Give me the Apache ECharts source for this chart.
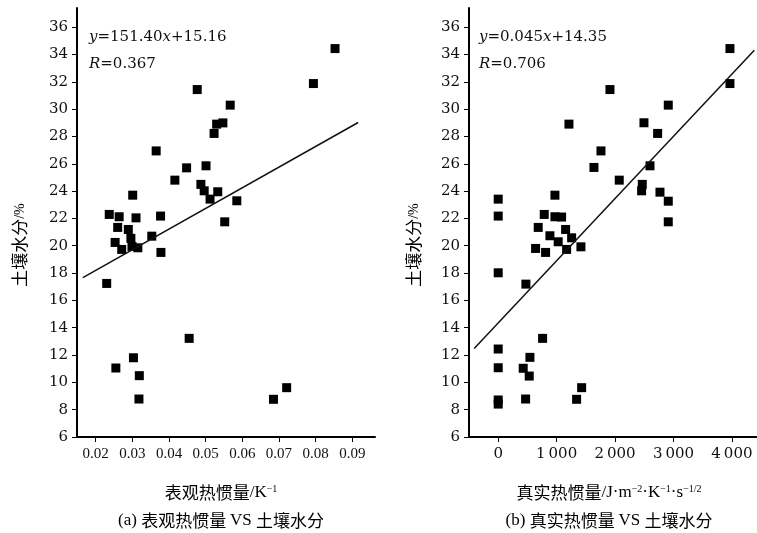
<!DOCTYPE html>
<html>
<head>
<meta charset="utf-8">
<script src="https://cdn.jsdelivr.net/npm/echarts@6/dist/echarts.min.js"></script>
<style>
  html, body { margin: 0; padding: 0; background: #fff; }
  #chart { width: 757px; height: 533px; }
</style>
</head>
<body>
<div id="chart"></div>
<script>
// (a) 表观热惯量 vs 土壤水分
var apparentTI = [0.0853, 0.0794, 0.0477, 0.0567, 0.0530, 0.0547, 0.0523, 0.0365, 0.0448, 0.0501,
  0.0416, 0.0487, 0.0496, 0.0533, 0.0512, 0.0585, 0.0301, 0.0237, 0.0264, 0.0310,
  0.0377, 0.0552, 0.0260, 0.0289, 0.0296, 0.0353, 0.0253, 0.0271, 0.0299, 0.0315,
  0.0378, 0.0230, 0.0455, 0.0303, 0.0255, 0.0319, 0.0318, 0.0685, 0.0721];
var moistureA = [34.43, 31.87, 31.43, 30.29, 28.90, 28.99, 28.22, 26.94, 25.70, 25.85,
  24.80, 24.49, 24.02, 23.95, 23.41, 23.29, 23.70, 22.29, 22.12, 22.04,
  22.17, 21.75, 21.34, 21.19, 20.54, 20.70, 20.24, 19.73, 19.95, 19.85,
  19.51, 17.24, 13.22, 11.80, 11.05, 10.49, 8.78, 8.76, 9.61];
// 回归线两端 (y=151.40x+15.16)
var fitA = [[0.0165, 17.66], [0.0916, 29.02]];

// (b) 真实热惯量 vs 土壤水分
var trueTI = [3967, 3967, 1913, 2911, 1211, 2495, 2729, 1759, 1639, 2598,
  2072, 2466, 2455, 2769, 2911, 0, 971, 788, 971, 1085,
  0, 2911, 685, 1154, 885, 1027, 1257, 640, 811, 1171,
  1416, 0, 474, 760, 0, 543, 0, 428, 531, 1428,
  0, 0, 469, 1342];
var moistureB = [34.43, 31.87, 31.43, 30.29, 28.90, 29.00, 28.22, 26.94, 25.73, 25.85,
  24.80, 24.49, 24.02, 23.92, 23.26, 23.41, 23.70, 22.29, 22.12, 22.10,
  22.17, 21.75, 21.34, 21.19, 20.73, 20.29, 20.58, 19.80, 19.51, 19.73,
  19.92, 18.02, 17.19, 13.22, 12.44, 11.83, 11.07, 11.03, 10.46, 9.61,
  8.71, 8.41, 8.78, 8.76];
var fitB = [[-411, 12.48], [4384, 34.30]];

var yTicks = [6, 8, 10, 12, 14, 16, 18, 20, 22, 24, 26, 28, 30, 32, 34, 36];
var xTicksA = [0.02, 0.03, 0.04, 0.05, 0.06, 0.07, 0.08, 0.09];
var xTicksB = [0, 1000, 2000, 3000, 4000];

function zip(xs, ys) {
  return xs.map(function (x, i) { return [x, ys[i]]; });
}

var serif = "DejaVu Serif";
var cjk = "Noto Sans CJK SC";

var axisCommon = {
  axisLine: { show: true, onZero: false, lineStyle: { color: "#000", width: 2 } },
  axisTick: { show: true, length: 5, lineStyle: { color: "#000", width: 1 } },
  splitLine: { show: false }
};

function makeX(idx, min, max, ticks, fmt, font) {
  return Object.assign({}, axisCommon, {
    type: "value",
    gridIndex: idx,
    min: min,
    max: max,
    axisTick: Object.assign({}, axisCommon.axisTick, { customValues: ticks }),
    axisLabel: {
      customValues: ticks,
      margin: 10,
      color: "#111",
      fontFamily: font,
      fontSize: 15,
      formatter: fmt
    }
  });
}

function makeY(idx) {
  return Object.assign({}, axisCommon, {
    type: "value",
    gridIndex: idx,
    min: 6,
    max: 37.4,
    axisTick: Object.assign({}, axisCommon.axisTick, { customValues: yTicks }),
    axisLabel: {
      customValues: yTicks,
      margin: 9,
      color: "#111",
      fontFamily: serif,
      fontSize: 15
    }
  });
}

var richSup = {
  c: { fontFamily: cjk, fontSize: 17, color: "#111" },
  r: { fontFamily: "Liberation Serif", fontSize: 17, color: "#111" },
  sup: { fontFamily: "Liberation Serif", fontSize: 10, color: "#111", verticalAlign: "top", padding: [0, 0, 8, 0] }
};

var richEq = {
  i: { fontFamily: serif, fontStyle: "italic", fontSize: 15, color: "#111" }
};

function txt(x, y, text, rich) {
  return {
    type: "text",
    x: x,
    y: y,
    style: {
      text: text,
      rich: rich,
      fontFamily: serif,
      fontSize: 15,
      fill: "#111",
      align: "left",
      verticalAlign: "middle"
    }
  };
}

var yTitleRich = {
  c: { fontFamily: cjk, fontSize: 17, color: "#111" },
  r: { fontFamily: "Liberation Serif", fontSize: 14, color: "#111" }
};

var chart = echarts.init(document.getElementById("chart"));
var option = {
  backgroundColor: "#fff",
  animation: false,
  grid: [
    { left: 77, right: 382, top: 8, bottom: 96, containLabel: false },
    { left: 469, right: 0, top: 8, bottom: 96, containLabel: false }
  ],
  xAxis: [
    makeX(0, 0.0149, 0.0962, xTicksA, function (v) { return v.toFixed(2); }, "Liberation Serif"),
    makeX(1, -500, 4430, xTicksB, function (v) {
      return v === 0 ? "0" : String(v / 1000) + "\u2009000";
    }, serif)
  ],
  yAxis: [makeY(0), makeY(1)],
  series: [
    {
      type: "scatter", xAxisIndex: 0, yAxisIndex: 0,
      symbol: "rect", symbolSize: 9,
      itemStyle: { color: "#000", opacity: 1 },
      data: zip(apparentTI, moistureA)
    },
    {
      type: "line", xAxisIndex: 0, yAxisIndex: 0,
      showSymbol: false, symbol: "none",
      lineStyle: { color: "#111", width: 1.5 },
      data: fitA
    },
    {
      type: "scatter", xAxisIndex: 1, yAxisIndex: 1,
      symbol: "rect", symbolSize: 9,
      itemStyle: { color: "#000", opacity: 1 },
      data: zip(trueTI, moistureB)
    },
    {
      type: "line", xAxisIndex: 1, yAxisIndex: 1,
      showSymbol: false, symbol: "none",
      lineStyle: { color: "#111", width: 1.5 },
      data: fitB
    }
  ],
  graphic: [
    // 回归方程
    txt(89, 37, "{i|y}=151.40{i|x}+15.16", richEq),
    txt(89, 64, "{i|R}=0.367", richEq),
    txt(479, 37, "{i|y}=0.045{i|x}+14.35", richEq),
    txt(479, 64, "{i|R}=0.706", richEq),
    // 纵轴标题
    {
      type: "text", x: 20, y: 245, rotation: Math.PI / 2,
      style: { text: "{c|土壤水分}{r|/%}", rich: yTitleRich, align: "center", verticalAlign: "middle" }
    },
    {
      type: "text", x: 414, y: 245, rotation: Math.PI / 2,
      style: { text: "{c|土壤水分}{r|/%}", rich: yTitleRich, align: "center", verticalAlign: "middle" }
    },
    // 横轴标题
    {
      type: "text", x: 221, y: 493,
      style: { text: "{c|表观热惯量}{r|/K}{sup|−1}", rich: richSup, align: "center", verticalAlign: "middle" }
    },
    {
      type: "text", x: 609, y: 493,
      style: {
        text: "{c|真实热惯量}{r|/J·m}{sup|−2}{r|·K}{sup|−1}{r|·s}{sup|−1/2}",
        rich: richSup, align: "center", verticalAlign: "middle"
      }
    },
    // 图注
    {
      type: "text", x: 221, y: 521,
      style: { text: "{r|(a) }{c|表观热惯量 }{r|VS }{c|土壤水分}", rich: richSup, align: "center", verticalAlign: "middle" }
    },
    {
      type: "text", x: 609, y: 521,
      style: { text: "{r|(b) }{c|真实热惯量 }{r|VS }{c|土壤水分}", rich: richSup, align: "center", verticalAlign: "middle" }
    }
  ]
};
chart.setOption(option);
</script>
</body>
</html>
